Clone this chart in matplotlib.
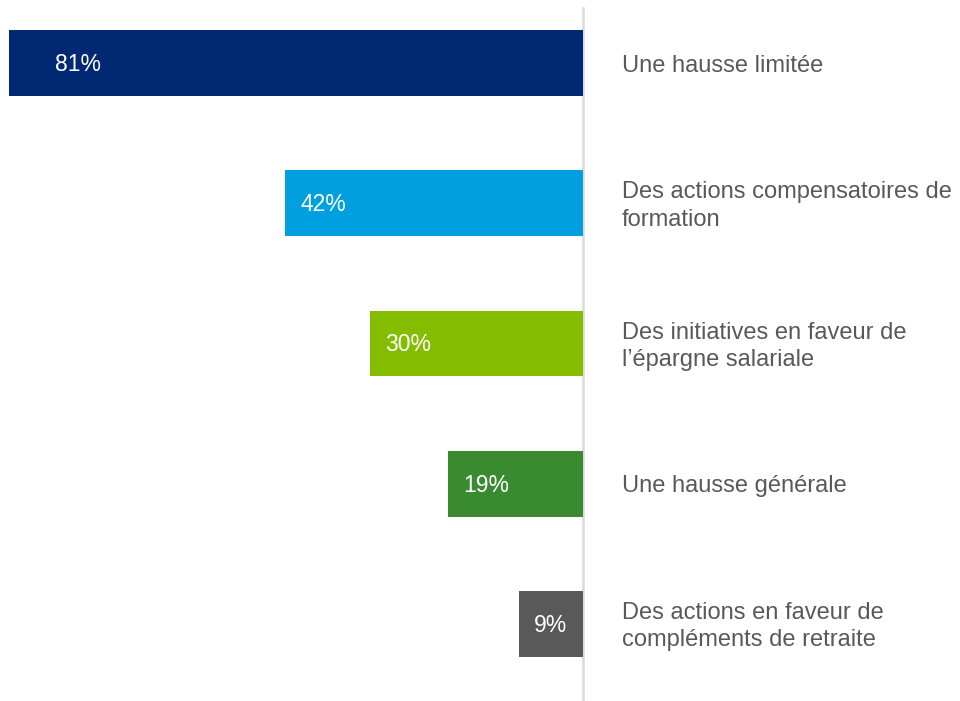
import matplotlib
matplotlib.use('Agg')
import matplotlib.pyplot as plt

plt.rcParams['font.family'] = ['Liberation Sans', 'DejaVu Sans']

# Données
categories = [
    'Une hausse limitée',
    'Des actions compensatoires de\nformation',
    'Des initiatives en faveur de\nl\u2019épargne salariale',
    'Une hausse générale',
    'Des actions en faveur de\ncompléments de retraite',
]
values = [81, 42, 30, 19, 9]
colors = ['#002873', '#009FDF', '#84BD00', '#3A8A2F', '#595959']

fig = plt.figure(figsize=(9.6, 7.01), dpi=100)
ax = fig.add_axes([0, 0, 1, 1])

ypos = list(range(len(values)))
ax.barh(ypos, values, height=0.47, color=colors, left=0)

# axe vertical
ax.plot([0, 0], [-0.39, 4.55], color='#d9d9d9', lw=1.8, zorder=0)

for i, (v, lab) in enumerate(zip(values, categories)):
    # étiquette de valeur, à gauche dans la barre
    pad = 46 if i == 0 else 15
    ax.annotate(f'{v}%', xy=(v, i + 0.01), xytext=(pad * 0.72, 0), textcoords='offset points',
                ha='left', va='center', color='white', fontsize=16.5)
    ax.text(-5.5, i + 0.02, lab, ha='left', va='center', color='#595959',
            fontsize=17, linespacing=1.32)

ax.set_xlim(82.2, -53.2)
ax.set_ylim(4.55, -0.45)
ax.axis('off')

fig.savefig('out.png', dpi=100)
